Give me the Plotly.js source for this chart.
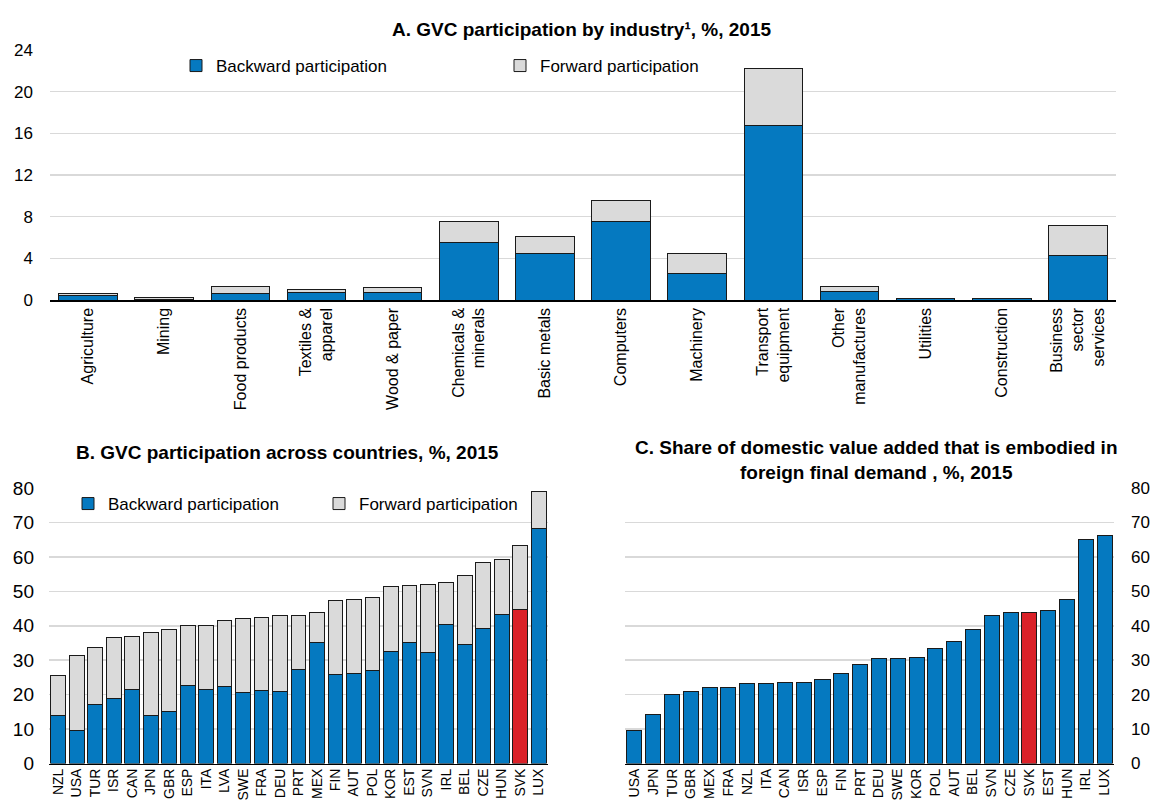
<!DOCTYPE html>
<html>
<head>
<meta charset="utf-8">
<script src="https://cdn.plot.ly/plotly-3.0.1.min.js"></script>
<style>html,body{margin:0;padding:0;background:#fff}#chart{width:1153px;height:802px}</style>
</head>
<body>
<div id="chart"></div>
<script>
// ---- Panel A data ----
const industries = ['Agriculture','Mining','Food products','Textiles & apparel','Wood & paper','Chemicals & minerals','Basic metals','Computers','Machinery','Transport equipment','Other manufactures','Utilities','Construction','Business sector services'];
const industryLabels = ['Agriculture','Mining','Food products','Textiles &<br>apparel','Wood & paper','Chemicals &<br>minerals','Basic metals','Computers','Machinery','Transport<br>equipment','Other<br>manufactures','Utilities','Construction','Business<br>sector<br>services'];
const industryBackward = [0.40,0.05,0.60,0.70,0.74,5.54,4.42,7.50,2.57,16.80,0.77,0.10,0.12,4.26];
const industryForward  = [0.25,0.21,0.74,0.33,0.48,1.98,1.72,2.10,1.91,5.47,0.51,0.03,0.04,2.94];

// ---- Panel B data ----
const countriesB = ['NZL','USA','TUR','ISR','CAN','JPN','GBR','ESP','ITA','LVA','SWE','FRA','DEU','PRT','MEX','FIN','AUT','POL','KOR','EST','SVN','IRL','BEL','CZE','HUN','SVK','LUX'];
const backwardB = [13.8,9.5,17.2,18.9,21.6,13.9,15.1,22.6,21.6,22.4,20.7,21.2,21.0,27.2,35.0,25.9,26.2,26.9,32.5,35.1,32.3,40.3,34.5,39.1,43.2,44.8,68.2];
const forwardB  = [11.7,22.0,16.4,17.6,15.2,24.1,23.8,17.5,18.5,19.1,21.5,21.1,21.9,15.8,8.8,21.4,21.3,21.3,19.0,16.7,19.7,12.2,20.1,19.3,15.9,18.6,10.9];

// ---- Panel C data ----
const countriesC = ['USA','JPN','TUR','GBR','MEX','FRA','NZL','ITA','CAN','ISR','ESP','FIN','PRT','DEU','SWE','KOR','POL','AUT','BEL','SVN','CZE','SVK','EST','HUN','IRL','LUX'];
const domesticVAC = [9.7,14.2,19.9,21.0,22.0,22.0,23.1,23.1,23.4,23.5,24.4,26.1,28.7,30.5,30.6,30.8,33.4,35.4,38.8,42.9,43.8,43.8,44.5,47.7,65.0,66.3];

const highlight = 'SVK';
const BLUE = '#0579c0', GREY = '#dadada', RED = '#da2128', OUTLINE = '#1a1a1a';
const FONT = '"Liberation Sans", Arial, sans-serif';
const W = 1153, H = 802;
const px = v => v / W, py = v => (H - v) / H;

const line = {color: OUTLINE, width: 1};
const traces = [
  {type:'bar', name:'Backward participation', x: industries, y: industryBackward, xaxis:'x', yaxis:'y', width:0.77,
   marker:{color: BLUE, line}, legend:'legend'},
  {type:'bar', name:'Forward participation', x: industries, y: industryForward, xaxis:'x', yaxis:'y', width:0.77,
   marker:{color: GREY, line}, legend:'legend'},
  {type:'bar', name:'Backward participation', x: countriesB, y: backwardB, xaxis:'x2', yaxis:'y2', width:0.8,
   marker:{color: countriesB.map(c => c === highlight ? RED : BLUE), line}, legend:'legend2'},
  {type:'bar', name:'Forward participation', x: countriesB, y: forwardB, xaxis:'x2', yaxis:'y2', width:0.8,
   marker:{color: GREY, line}, legend:'legend2'},
  {type:'bar', name:'Domestic value added in foreign final demand', x: countriesC, y: domesticVAC, xaxis:'x3', yaxis:'y3', width:0.8,
   marker:{color: countriesC.map(c => c === highlight ? RED : BLUE), line}, showlegend:false}
];

const yBase = {
  showgrid:true, gridcolor:'#d9d9d9', gridwidth:1.5, zeroline:false, ticks:'', showline:false, fixedrange:true
};
const xBase = {
  type:'category', showline:true, linecolor:'#000', linewidth:1.5, ticks:'', showgrid:false,
  tickangle:-90, fixedrange:true
};

const layout = {
  width: W, height: H,
  margin:{l:0, r:0, t:0, b:0},
  paper_bgcolor:'#fff', plot_bgcolor:'#fff',
  barmode:'stack',
  font:{family: FONT, color:'#000'},
  xaxis: Object.assign({}, xBase, {domain:[px(50), px(1116)], anchor:'y', tickmode:'array', tickvals: industries, ticktext: industryLabels,
          tickfont:{family: FONT, size:16, color:'#000'}}),
  yaxis: Object.assign({}, yBase, {domain:[py(300), py(50)], anchor:'x', range:[0,24], dtick:4, tick0:0, ticklabelstandoff:16,
          tickfont:{family: FONT, size:17, color:'#000'}}),
  xaxis2: Object.assign({}, xBase, {domain:[px(49), px(548)], anchor:'y2', tickmode:'array', tickvals: countriesB,
          ticklabelstandoff:-2, tickfont:{family: FONT, size:14, color:'#000'}}),
  yaxis2: Object.assign({}, yBase, {domain:[py(763.5), py(488)], anchor:'x2', range:[0,80], dtick:10, ticklabelstandoff:14,
          tickfont:{family: FONT, size:19, color:'#000'}}),
  xaxis3: Object.assign({}, xBase, {domain:[px(625), px(1114)], anchor:'y3', tickmode:'array', tickvals: countriesC,
          ticklabelstandoff:-2, tickfont:{family: FONT, size:14, color:'#000'}}),
  yaxis3: Object.assign({}, yBase, {domain:[py(763.5), py(488)], anchor:'x3', range:[0,80], dtick:10, side:'right', ticklabelstandoff:16,
          tickfont:{family: FONT, size:17, color:'#000'}}),
  legend: {orientation:'h', x: px(176), y: py(66), xanchor:'left', yanchor:'middle', entrywidth: 279,
           font:{family: FONT, size:17, color:'#000'}, bgcolor:'rgba(0,0,0,0)', traceorder:'normal'},
  legend2: {orientation:'h', x: px(68), y: py(504), xanchor:'left', yanchor:'middle', entrywidth: 206,
           font:{family: FONT, size:17, color:'#000'}, bgcolor:'rgba(0,0,0,0)', traceorder:'normal'},
  annotations: [
    {text:'<b>A. GVC participation by industry¹, %, 2015</b>', xref:'paper', yref:'paper', x: px(581), y: py(29),
     xanchor:'center', yanchor:'middle', showarrow:false, font:{family: FONT, size:19, color:'#000'}},
    {text:'<b>B. GVC participation across countries, %, 2015</b>', xref:'paper', yref:'paper', x: px(287), y: py(452),
     xanchor:'center', yanchor:'middle', showarrow:false, font:{family: FONT, size:19, color:'#000'}},
    {text:'<b>C. Share of domestic value added that is embodied in<br>foreign final demand , %, 2015</b>', xref:'paper', yref:'paper', x: px(876), y: py(460),
     xanchor:'center', yanchor:'middle', showarrow:false, font:{family: FONT, size:19, color:'#000'}}
  ]
};

Plotly.newPlot('chart', traces, layout, {displayModeBar:false, staticPlot:true});
</script>
</body>
</html>
